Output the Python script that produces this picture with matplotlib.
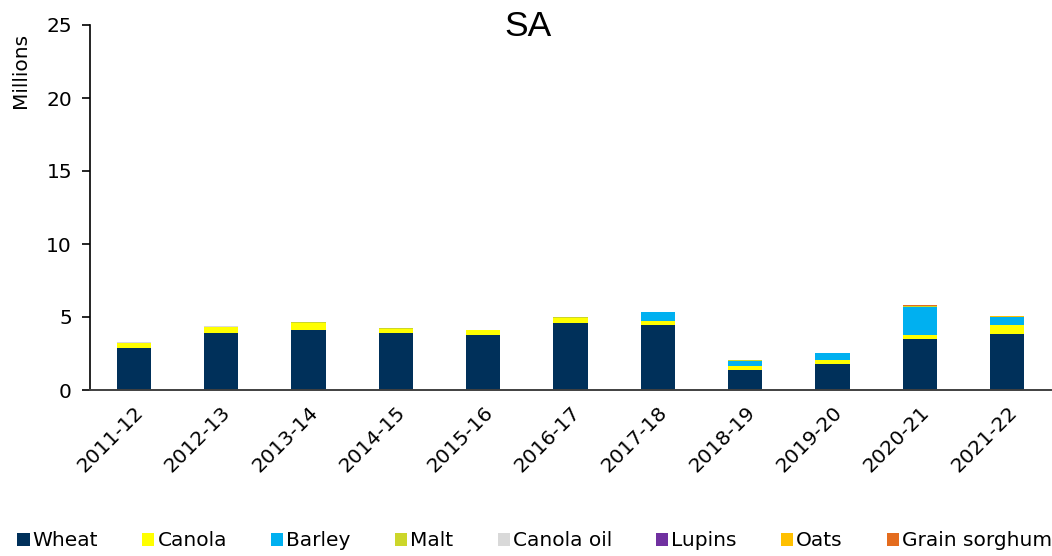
import matplotlib
matplotlib.use("Agg")
import matplotlib.pyplot as plt
from matplotlib.patches import Patch
import numpy as np

plt.rcParams['font.family'] = ['DejaVu Sans']

years = ["2011-12", "2012-13", "2013-14", "2014-15", "2015-16", "2016-17",
         "2017-18", "2018-19", "2019-20", "2020-21", "2021-22"]
wheat      = [2.85, 3.93, 4.11, 3.88, 3.79, 4.59, 4.47, 1.39, 1.80, 3.49, 3.86]
canola     = [0.38, 0.39, 0.50, 0.32, 0.31, 0.37, 0.28, 0.23, 0.25, 0.30, 0.61]
barley     = [0.00, 0.00, 0.00, 0.00, 0.00, 0.00, 0.57, 0.39, 0.48, 1.92, 0.51]
malt       = [0.02, 0.02, 0.03, 0.02, 0.02, 0.02, 0.02, 0.02, 0.02, 0.02, 0.02]
canola_oil = [0.02, 0.01, 0.01, 0.01, 0.01, 0.01, 0.01, 0.01, 0.01, 0.01, 0.01]
lupins     = [0.00, 0.00, 0.00, 0.00, 0.00, 0.00, 0.00, 0.00, 0.00, 0.00, 0.00]
oats       = [0.00, 0.00, 0.00, 0.00, 0.00, 0.00, 0.00, 0.01, 0.00, 0.02, 0.05]
sorghum    = [0.00, 0.00, 0.00, 0.00, 0.00, 0.00, 0.00, 0.00, 0.00, 0.03, 0.04]

series = [
    ("Wheat", wheat, "#00305A"),
    ("Canola", canola, "#FFFF00"),
    ("Barley", barley, "#00B0F0"),
    ("Malt", malt, "#CCD62A"),
    ("Canola oil", canola_oil, "#D9D9D9"),
    ("Lupins", lupins, "#7030A0"),
    ("Oats", oats, "#FFC000"),
    ("Grain sorghum", sorghum, "#E46C1E"),
]

fig = plt.figure(figsize=(10.52, 5.56), dpi=100)
ax = fig.add_axes([90 / 1052, 1 - 390 / 556, 961 / 1052, 365 / 556])

x = np.arange(len(years))
bottom = np.zeros(len(years))
for name, vals, col in series:
    v = np.array(vals)
    ax.bar(x, v, width=0.393, bottom=bottom, color=col, edgecolor='none', label=name)
    bottom += v

ax.set_xlim(-0.5, len(years) - 0.5)
ax.set_ylim(0, 25)
ax.set_yticks([0, 5, 10, 15, 20, 25])
ax.tick_params(axis='y', labelsize=14.5, length=6, width=1.2, pad=7, colors='#000000')
ax.tick_params(axis='x', labelsize=14.5, length=0, pad=9)
ax.set_xticks(x)
ax.set_xticklabels(years, rotation=45, ha='right', va='top', rotation_mode='anchor')

for s in ['top', 'right']:
    ax.spines[s].set_visible(False)
ax.spines['left'].set_color('#000000')
ax.spines['left'].set_linewidth(1.2)
ax.spines['bottom'].set_color('#404040')
ax.spines['bottom'].set_linewidth(1.4)

fig.text(0.5015, 1 - 36 / 556, "SA", fontsize=25.5, ha='center', va='baseline',
         family=['Liberation Sans', 'DejaVu Sans'])
fig.text(21 / 1052, 1 - 33 / 556, "Millions", rotation=90, fontsize=14.5,
         ha='center', va='top')

handles = [Patch(facecolor=c, edgecolor='none') for _, _, c in series]
labels = [n for n, _, _ in series]
fig.legend(handles, labels, loc='center', bbox_to_anchor=(0.5085, 1 - 541 / 556), ncol=8,
           frameon=False, fontsize=14.5, handlelength=0.6, handleheight=0.6,
           handletextpad=0.15, columnspacing=2.2, borderaxespad=0, borderpad=0)

fig.savefig("out.png", dpi=100)
